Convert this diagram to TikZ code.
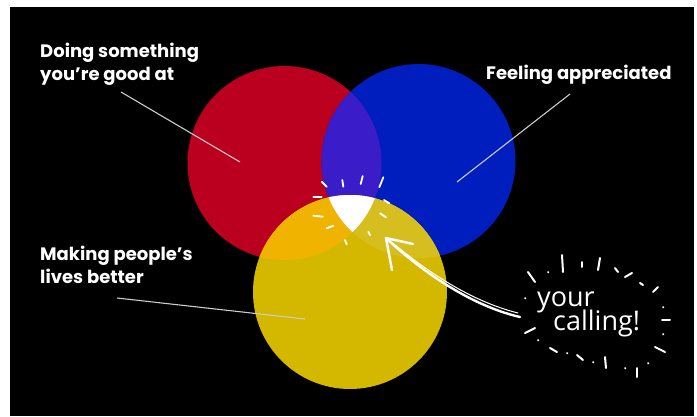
\documentclass[tikz,border=0pt]{standalone}
\usepackage{fontspec}
\setmainfont{Poppins}
\newfontfamily\handfont{Open Sans}
\usepackage{xcolor}
\usetikzlibrary{math, calc}
\definecolor{cred}{RGB}{186, 0, 30}
\definecolor{cblue}{RGB}{0, 30, 190}
\definecolor{cyel}{RGB}{212, 184, 0}
\definecolor{cpurp}{RGB}{58, 28, 200}
\definecolor{corange}{RGB}{240, 180, 0}
\definecolor{colive}{RGB}{214, 190, 30}
\tikzset{
  lbl/.style={text=white, font=\bfseries\fontsize{18}{23}\selectfont, inner sep=0pt, align=left},
  leader/.style={draw=white!80!black, line width=1.1pt},
  chalk/.style={draw=white, line width=2pt, line cap=round, line join=round},
}

\begin{document}
\begin{tikzpicture}[x=1pt, y=-1pt]
\tikzmath{
\r=97;
}
\useasboundingbox (0,0) rectangle (697,416);
\fill[black] (10,7) rectangle (694,416);

\coordinate (R) at (284.5,163);
\coordinate (B) at (418.5,161);
\coordinate (Y) at (350,292);

\fill[cred] (R) circle (\r pt);
\fill[cblue] (B) circle (\r pt);
\fill[cyel] (Y) circle (\r pt);
\begin{scope}
\clip (R) circle (\r pt);
\fill[cpurp] (B) circle (\r pt);
\fill[corange] (Y) circle (\r pt);
\end{scope}
\begin{scope}
\clip (B) circle (\r pt);
\fill[colive] (Y) circle (\r pt);
\clip (R) circle (\r pt);
\fill[white] (Y) circle (\r pt);
\end{scope}

% labels
\node[lbl, anchor=north west] (good) at (40,43) {Doing something\\you’re good at};
\node[lbl, anchor=west] (appr) at (486,75) {Feeling appreciated};
\node[lbl, anchor=north west] (lives) at (40,246) {Making people’s\\lives better};

\coordinate (goodfoot) at (121,92);
\coordinate (goodend) at (240,162);
\coordinate (apprfoot) at (570,94);
\coordinate (apprend) at (457,182);
\coordinate (livesfoot) at (117,298);
\coordinate (livesend) at (305,319);
\draw[leader] (goodfoot) -- (goodend);
\draw[leader] (apprfoot) -- (apprend);
\draw[leader] (livesfoot) -- (livesend);

% sparkle round the middle
\foreach \ax/\ay/\bx/\by in {321.7/181.7/326.7/186.7, 342.3/180/343.3/186.7, 362.7/176/360.7/184,
  383.3/177.3/379.3/187.3, 313.3/196.7/321.7/196.7, 384/200/389.3/203.3, 313.3/215.7/322.7/216.7,
  380/213.3/386/217.3, 326.7/228.3/333.3/225.7, 368.3/231.7/370/235, 345/240/346.7/244.3}
  \draw[chalk, line width=1.8pt] (\ax,\ay) -- (\bx,\by);

% your calling
\node[text=white, font=\handfont\fontsize{27}{27}\selectfont, anchor=base west, inner sep=0pt] (your) at (537,306) {your};
\node[text=white, font=\handfont\fontsize{27}{27}\selectfont, anchor=base west, inner sep=0pt] (calling) at (553,330) {calling!};

\foreach \ax/\ay/\bx/\by in {528/272/535/282, 548/272/548.5/272.5, 562/255/563/272, 582/262/582/267,
  600/258/598/270, 615/268/618/272, 625/277/632/273, 640/283/643/285, 653/292/658/287,
  663/307/663.5/307.5, 662/320/670/320, 663/334/663.5/334.5, 655/347/665/352, 648/363/648.5/363.5,
  637/368/637/377, 625/368/625.5/368.5, 605/357/606/368, 593/362/593.5/362.5, 577/355/583/360,
  567/353/567.5/353.5, 550/348/557/352, 538/340/538.5/340.5, 525/333/535/328, 525/298/525.5/298.5}
  \draw[chalk] (\ax,\ay) -- (\bx,\by);

\coordinate (calltail) at (520,317);
\coordinate (calltip) at (386,238);
\draw[chalk, line width=2.4pt] (calltail) .. controls (468,305) and (418,268) .. (calltip);
\draw[chalk, line width=1pt] ($(calltail)+(-2,-4)$) .. controls (466,300) and (420,266) .. ($(calltip)+(2,1)$);
\draw[chalk, line width=2.4pt] (413,244) -- (calltip) -- (392,270);
\end{tikzpicture}
\end{document}
